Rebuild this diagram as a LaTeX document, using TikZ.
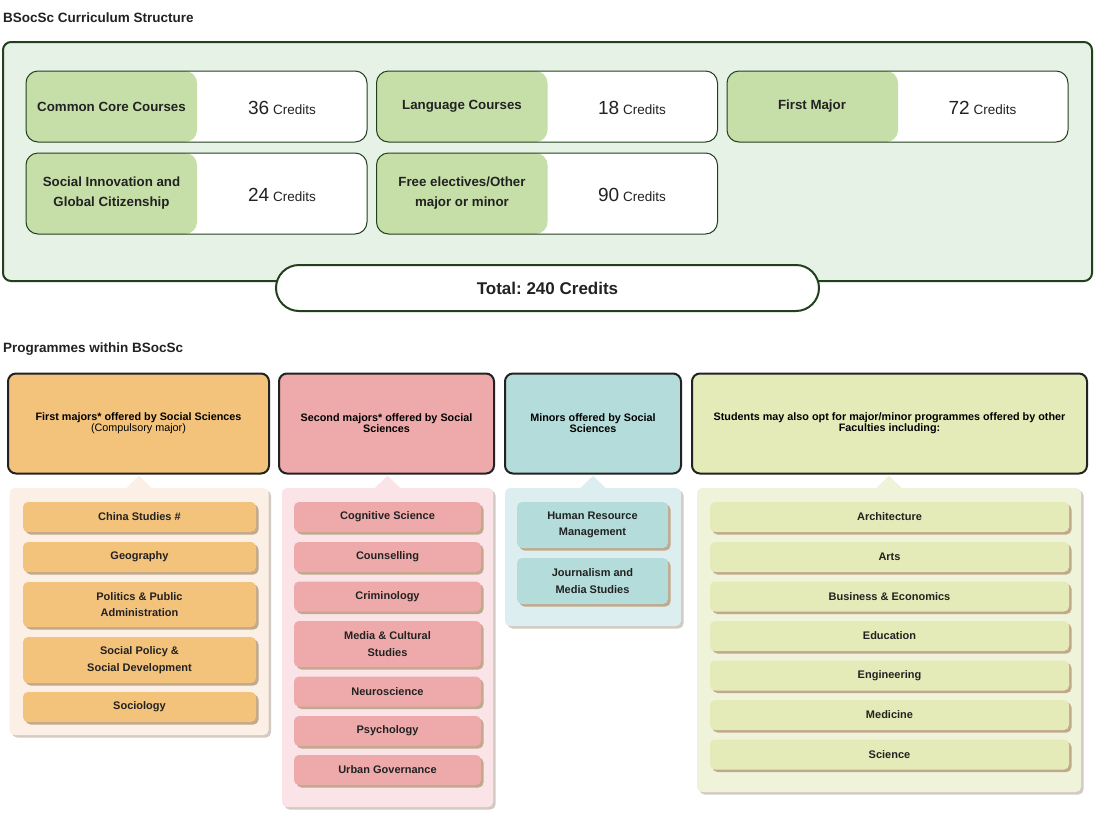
\documentclass[tikz,border=0pt]{standalone}
\usepackage{fontspec}
\setmainfont{Liberation Sans}
\usetikzlibrary{shadows,calc}
\frenchspacing

\definecolor{textdark}{HTML}{222222}
\definecolor{outerfill}{HTML}{E7F2E6}
\definecolor{outerline}{HTML}{22401E}
\definecolor{cardgreen}{HTML}{C6DEA8}
\definecolor{orangebox}{HTML}{F3C27B}
\definecolor{orangepanel}{HTML}{FCF0E6}
\definecolor{pinkbox}{HTML}{EEAAAA}
\definecolor{pinkpanel}{HTML}{FBE4E8}
\definecolor{tealbox}{HTML}{B3DCDA}
\definecolor{tealpanel}{HTML}{DDEEF0}
\definecolor{limebox}{HTML}{E5EBB8}
\definecolor{limepanel}{HTML}{EFF3D9}
\definecolor{itemshadow}{HTML}{C1A98C}
\definecolor{panelshadow}{HTML}{D3CBC3}

\begin{document}
\begin{tikzpicture}[x=1pt,y=-1pt,
  sectiontitle/.style={anchor=west, inner sep=0pt, text=textdark,
    font=\fontsize{13.5}{15}\selectfont\bfseries},
  cardbox/.style={draw=outerline, line width=1pt, fill=white, rounded corners=12pt,
    minimum width=341pt, inner sep=0pt,
    path picture={\fill[cardgreen] (path picture bounding box.north west)
      rectangle ([xshift=171pt]path picture bounding box.south west);}},
  cardlabel/.style={align=center, inner sep=0pt, text=textdark,
    font=\fontsize{13.3}{20}\selectfont\bfseries},
  cardcredit/.style={inner sep=0pt, text=textdark, font=\fontsize{13.5}{16}\selectfont},
  headbox/.style={draw=textdark, line width=2pt, rounded corners=8pt, inner sep=0pt,
    minimum height=100pt, align=center, text=black,
    font=\fontsize{10.8}{11}\selectfont\bfseries},
  panelbox/.style={rounded corners=5pt, inner sep=0pt,
    drop shadow={shadow xshift=2.5pt, shadow yshift=-2.5pt, fill=panelshadow, opacity=1}},
  itembox/.style={rounded corners=5pt, inner sep=0pt, minimum height=30pt, align=center,
    text=textdark, font=\fontsize{11}{16.5}\selectfont\bfseries,
    drop shadow={shadow xshift=2.5pt, shadow yshift=-2.5pt, fill=itemshadow, opacity=1}},
  firstitem/.style={itembox, fill=orangebox, minimum width=233pt},
  seconditem/.style={itembox, fill=pinkbox, minimum width=187pt},
  minoritem/.style={itembox, fill=tealbox, minimum width=151pt},
  otheritem/.style={itembox, fill=limebox, minimum width=359pt}]

\fill[white] (0,0) rectangle (1096,820);
\useasboundingbox (0,0) rectangle (1096,820);

% Curriculum structure
\node[sectiontitle] (curtitle) at (3,17.5) {BSocSc Curriculum Structure};
\node[draw=outerline, line width=2pt, fill=outerfill, rounded corners=8pt,
  minimum width=1089pt, minimum height=239pt, inner sep=0pt] (outer) at (547.5,161.5) {};

% Credit cards, first row
\node[cardbox, minimum height=71pt] (core) at (196.5,106.5) {};
\node[cardlabel] (corelabel) at (111.5,107) {Common Core Courses};
\node[cardcredit] (corecredit) at (282,107.5) {{\fontsize{19}{22}\selectfont 36} Credits};

\node[cardbox, minimum height=71pt] (lang) at (547,106.5) {};
\node[cardlabel] (langlabel) at (462,106.5) {Language Courses};
\node[cardcredit] (langcredit) at (632,107.5) {{\fontsize{19}{22}\selectfont 18} Credits};

\node[cardbox, minimum height=71pt] (major) at (897.5,106.5) {};
\node[cardlabel] (majorlabel) at (812,106.5) {First Major};
\node[cardcredit] (majorcredit) at (982.5,107.5) {{\fontsize{19}{22}\selectfont 72} Credits};

% Credit cards, second row
\node[cardbox, minimum height=81pt] (social) at (196.5,193.5) {};
\node[cardlabel] (sociallabel) at (111.5,193.5) {Social Innovation and\\Global Citizenship};
\node[cardcredit] (socialcredit) at (282,194.5) {{\fontsize{19}{22}\selectfont 24} Credits};

\node[cardbox, minimum height=81pt] (free) at (547,193.5) {};
\node[cardlabel] (freelabel) at (462,193.5) {Free electives/Other\\major or minor};
\node[cardcredit] (freecredit) at (632,194.5) {{\fontsize{19}{22}\selectfont 90} Credits};

% Total
\node[draw=outerline, line width=2pt, fill=white, rounded corners=23pt,
  minimum width=543pt, minimum height=46pt, inner sep=0pt, text=textdark,
  font=\fontsize{17}{20}\selectfont\bfseries] (total) at (547.5,288) {Total: 240 Credits};

% Programmes
\node[sectiontitle] (progtitle) at (3,349.5) {Programmes within BSocSc};

% Panels under the headers
\node[panelbox, fill=orangepanel, minimum width=259pt, minimum height=247pt] (firstpanel) at (139,611.5) {};
\node[panelbox, fill=pinkpanel, minimum width=211pt, minimum height=319pt] (secondpanel) at (387.5,647.5) {};
\node[panelbox, fill=tealpanel, minimum width=176pt, minimum height=138pt] (minorpanel) at (593,557) {};
\node[panelbox, fill=limepanel, minimum width=384pt, minimum height=304pt] (otherpanel) at (889,640) {};

% Pointers
\fill[orangepanel] ([xshift=-12.5pt]firstpanel.north) -- ++(12.5,-12) -- ++(12.5,12) -- cycle;
\fill[pinkpanel] ([xshift=-12.5pt]secondpanel.north) -- ++(12.5,-12) -- ++(12.5,12) -- cycle;
\fill[tealpanel] ([xshift=-12.5pt]minorpanel.north) -- ++(12.5,-12) -- ++(12.5,12) -- cycle;
\fill[limepanel] ([xshift=-12.5pt]otherpanel.north) -- ++(12.5,-12) -- ++(12.5,12) -- cycle;

% Headers
\node[headbox, fill=orangebox, minimum width=261pt] (firsthead) at (138.5,423.5)
  {First majors* offered by Social Sciences\\{\mdseries (Compulsory major)}};
\node[headbox, fill=pinkbox, minimum width=215pt] (secondhead) at (386.5,423.5)
  {Second majors* offered by Social\\Sciences};
\node[headbox, fill=tealbox, minimum width=176pt] (minorhead) at (593,423.5)
  {Minors offered by Social\\Sciences};
\node[headbox, fill=limebox, minimum width=395pt] (otherhead) at (889.5,423.5)
  {Students may also opt for major/minor programmes offered by other\\Faculties including:};

% First majors
\node[firstitem] (china) at (139.5,517) {China Studies \#};
\node[firstitem] (geo) at (139.5,557) {Geography};
\node[firstitem, minimum height=45pt] (politics) at (139.5,604.5) {Politics \& Public\\Administration};
\node[firstitem, minimum height=46pt] (policy) at (139.5,660) {Social Policy \&\\Social Development};
\node[firstitem] (sociology) at (139.5,707) {Sociology};

% Second majors
\node[seconditem] (cogsci) at (387.5,517) {Cognitive Science};
\node[seconditem] (counsel) at (387.5,557) {Counselling};
\node[seconditem] (crim) at (387.5,596.5) {Criminology};
\node[seconditem, minimum height=46pt] (media) at (387.5,644) {Media \& Cultural\\Studies};
\node[seconditem] (neuro) at (387.5,691.5) {Neuroscience};
\node[seconditem] (psych) at (387.5,731) {Psychology};
\node[seconditem] (urban) at (387.5,770) {Urban Governance};

% Minors
\node[minoritem, minimum height=46pt] (hrm) at (592.5,525) {Human Resource\\Management};
\node[minoritem, minimum height=46pt] (journal) at (592.5,581) {Journalism and\\Media Studies};

% Other faculties
\node[otheritem] (arch) at (889.5,517) {Architecture};
\node[otheritem] (arts) at (889.5,557) {Arts};
\node[otheritem] (business) at (889.5,596.5) {Business \& Economics};
\node[otheritem] (edu) at (889.5,636) {Education};
\node[otheritem] (eng) at (889.5,675.5) {Engineering};
\node[otheritem] (med) at (889.5,715) {Medicine};
\node[otheritem] (sci) at (889.5,754.5) {Science};
\end{tikzpicture}
\end{document}
